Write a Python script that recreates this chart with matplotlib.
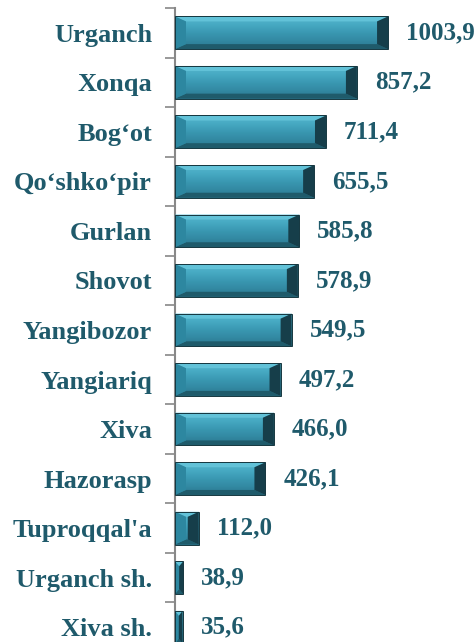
import matplotlib
matplotlib.use("Agg")
import matplotlib.pyplot as plt
from matplotlib.patches import Polygon
from matplotlib.colors import LinearSegmentedColormap
import numpy as np

categories = ["Urganch", "Xonqa", "Bog‘ot", "Qo‘shko‘pir", "Gurlan", "Shovot",
              "Yangibozor", "Yangiariq", "Xiva", "Hazorasp", "Tuproqqal'a",
              "Urganch sh.", "Xiva sh."]
values = [1003.9, 857.2, 711.4, 655.5, 585.8, 578.9, 549.5, 497.2, 466.0,
          426.1, 112.0, 38.9, 35.6]

W, H = 477, 642
fig = plt.figure(figsize=(W / 100, H / 100), dpi=100)
ax_left, ax_right = 175, 477
ax_top, ax_bot = 8, 652
ax = fig.add_axes([ax_left / W, (H - ax_bot) / H, (ax_right - ax_left) / W, (ax_bot - ax_top) / H])

n = len(categories)
ypos = np.arange(n)
xmax = 1423
ax.set_xlim(0, xmax)
ax.set_ylim(n - 0.5, -0.5)

bh = 0.66
top_c = "#62c2d8"
bot_c = "#1f5b6b"
left_c = "#2d87a0"
right_c = "#163e4a"
face_cmap = LinearSegmentedColormap.from_list(
    "face", ["#55b6cd", "#47aac3", "#3a98b2", "#3289a2", "#2b7890"])
grad = np.linspace(0, 1, 64).reshape(-1, 1)

pxx = (ax_right - ax_left) / xmax
pxy = (ax_bot - ax_top) / n
text_color = "#1f5a6b"

for y, v in zip(ypos, values):
    x0, x1 = 0, v
    y0, y1 = y - bh / 2, y + bh / 2  # y0 is top (inverted axis)
    dx = min(11 / pxx, v / 2)
    dyt = min(5 / pxy, bh / 2)
    dyb = min(5 / pxy, bh / 2)
    base = Polygon([(x0, y0), (x1, y0), (x1, y1), (x0, y1)], closed=True,
                   facecolor="none", edgecolor="none", zorder=2)
    ax.add_patch(base)
    im = ax.imshow(grad, cmap=face_cmap, aspect="auto", extent=(x0, x1, y1, y0),
                   origin="upper", zorder=2, interpolation="bilinear")
    im.set_clip_path(base)
    ax.add_patch(Polygon([(x0, y0), (x1, y0), (x1 - dx, y0 + dyt), (x0 + dx, y0 + dyt)],
                         facecolor=top_c, edgecolor="none", zorder=3))
    ax.add_patch(Polygon([(x0, y1), (x1, y1), (x1 - dx, y1 - dyb), (x0 + dx, y1 - dyb)],
                         facecolor=bot_c, edgecolor="none", zorder=3))
    ax.add_patch(Polygon([(x0, y0), (x0 + dx, y0 + dyt), (x0 + dx, y1 - dyb), (x0, y1)],
                         facecolor=left_c, edgecolor="none", zorder=3))
    ax.add_patch(Polygon([(x1, y0), (x1 - dx, y0 + dyt), (x1 - dx, y1 - dyb), (x1, y1)],
                         facecolor=right_c, edgecolor="none", zorder=3))
    ax.add_patch(Polygon([(x0, y0), (x1, y0), (x1, y1), (x0, y1)], closed=True,
                         facecolor="none", edgecolor="#14363f", linewidth=0.7, zorder=4))
    ax.text(v + 18 / pxx, y, f"{v:.1f}".replace(".", ","), va="center", ha="left",
            fontsize=18, fontweight="bold", family="Liberation Serif", color=text_color)

ax.set_yticks(ypos)
ax.set_yticklabels(categories, fontsize=19, fontweight="bold", family="Liberation Serif", color=text_color)
ax.set_yticks(np.arange(-0.5, n, 1), minor=True)
ax.tick_params(axis="y", which="major", length=0, pad=16.5)
ax.tick_params(axis="y", which="minor", length=7, width=1.2, color="#888888")
ax.set_xticks([])
for s in ["top", "right", "bottom"]:
    ax.spines[s].set_visible(False)
ax.spines["left"].set_color("#888888")
ax.spines["left"].set_linewidth(1.5)

fig.savefig("out.png", dpi=100)
